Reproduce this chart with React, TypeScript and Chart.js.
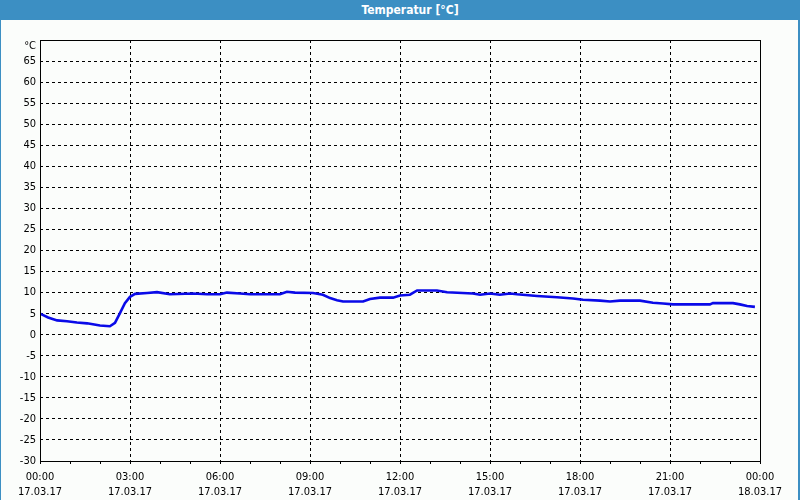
import React, { useEffect, useRef } from "react";
import { Chart, registerables } from "chart.js";

Chart.register(...registerables);

const titleText = "Temperatur [°C]";
const unitLabel = "°C";
const timeLabels = ["00:00", "03:00", "06:00", "09:00", "12:00", "15:00", "18:00", "21:00", "00:00"];
const dateLabels = ["17.03.17", "17.03.17", "17.03.17", "17.03.17", "17.03.17", "17.03.17", "17.03.17", "17.03.17", "18.03.17"];

const hours = [
  0, 0.27, 0.57, 0.9, 1.23, 1.57, 2.0, 2.33, 2.5, 2.67, 2.83, 3.0, 3.17, 3.57, 3.9, 4.33,
  5.1, 5.57, 6.0, 6.23, 6.67, 7.0, 8.0, 8.23, 8.5, 9.1, 9.43, 9.67, 9.9, 10.1, 10.77, 11.0,
  11.33, 11.77, 12.0, 12.33, 12.57, 13.23, 13.57, 14.43, 14.67, 15.0, 15.33, 15.67, 15.9,
  16.57, 17.23, 17.77, 18.1, 18.67, 19.0, 19.33, 20.0, 20.43, 20.77, 21.1, 22.33, 22.43,
  23.1, 23.33, 23.57, 23.83,
];
const temps = [
  5.0, 4.1, 3.4, 3.2, 2.9, 2.7, 2.2, 2.0, 2.8, 5.2, 7.5, 9.0, 9.7, 9.9, 10.1, 9.6,
  9.8, 9.6, 9.6, 10.0, 9.8, 9.6, 9.6, 10.2, 10.0, 9.9, 9.5, 8.7, 8.2, 7.9, 7.9, 8.5,
  8.8, 8.8, 9.3, 9.5, 10.5, 10.5, 10.1, 9.8, 9.5, 9.8, 9.5, 9.8, 9.6,
  9.2, 8.9, 8.6, 8.3, 8.1, 7.9, 8.1, 8.1, 7.6, 7.4, 7.2, 7.2, 7.5,
  7.5, 7.2, 6.8, 6.6,
];

const FONT = "'DejaVu Sans Condensed', 'DejaVu Sans', sans-serif";

export default function App() {
  const ref = useRef<HTMLCanvasElement | null>(null);

  useEffect(() => {
    document.body.style.margin = "0";
    const canvas = ref.current;
    if (!canvas) return;

    const framePlugin = {
      id: "frame",
      afterDatasetsDraw(chart: any) {
        const { ctx, chartArea } = chart;
        ctx.save();
        ctx.setLineDash([]);
        ctx.strokeStyle = "#000";
        ctx.lineWidth = 1;
        ctx.strokeRect(
          Math.round(chartArea.left) + 0.5,
          Math.round(chartArea.top) + 0.5,
          Math.round(chartArea.right - chartArea.left),
          Math.round(chartArea.bottom - chartArea.top)
        );
        ctx.fillStyle = "#000";
        ctx.font = "11px " + FONT;
        ctx.textAlign = "right";
        ctx.textBaseline = "middle";
        ctx.fillText(unitLabel, chartArea.left - 4, chartArea.top + 6);
        ctx.restore();
      },
    };

    const chart = new Chart(canvas, {
      type: "line",
      data: {
        datasets: [
          {
            data: hours.map((h, i) => ({ x: h, y: temps[i] })),
            borderColor: "#0a0ae8",
            borderWidth: 2.6,
            pointRadius: 0,
            tension: 0,
            fill: false,
          },
        ],
      },
      options: {
        animation: false,
        responsive: false,
        maintainAspectRatio: false,
        layout: { padding: { left: 0, top: 40, right: 40, bottom: 0 } },
        plugins: { legend: { display: false }, tooltip: { enabled: false }, title: { display: false } },
        scales: {
          x: {
            type: "linear",
            min: 0,
            max: 24,
            border: { display: false, dash: [3, 3] },
            afterFit(scale: any) {
              scale.height = 39;
            },
            grid: {
              color: (c: any) => {
                const v = c.tick ? c.tick.value : 0;
                return v % 3 === 0 && v !== 0 && v !== 24 ? "#000" : "rgba(0,0,0,0)";
              },
              tickColor: "#000",
              tickBorderDash: [],
              drawTicks: true,
              tickLength: 3,
              lineWidth: 1,
            },
            ticks: {
              stepSize: 1,
              autoSkip: false,
              maxRotation: 0,
              padding: 6,
              color: "#000",
              font: { family: FONT, size: 11, lineHeight: 1.36 },
              callback: (v: any) => {
                const n = Number(v);
                if (n % 3 !== 0) return "";
                return [timeLabels[n / 3], dateLabels[n / 3]];
              },
            },
          },
          y: {
            min: -30,
            max: 70,
            border: { display: false, dash: [3, 3] },
            afterFit(scale: any) {
              scale.width = 40;
            },
            grid: {
              color: (c: any) => {
                const v = c.tick ? c.tick.value : 0;
                return v === 70 || v === -30 ? "rgba(0,0,0,0)" : "#000";
              },
              drawTicks: false,
              lineWidth: 1,
            },
            ticks: {
              stepSize: 5,
              padding: 4,
              color: "#000",
              font: { family: FONT, size: 11 },
              callback: (v: any) => (Number(v) === 70 ? "" : String(v)),
            },
          },
        },
      },
      plugins: [framePlugin],
    });
    return () => chart.destroy();
  }, []);

  return (
    <div
      style={{
        position: "fixed",
        left: 0,
        top: 0,
        width: 800,
        height: 500,
        background: "#fbfdfb",
        overflow: "hidden",
      }}
    >
      <canvas ref={ref} width={800} height={500} style={{ position: "absolute", left: 0, top: 0, width: 800, height: 500 }} />
      <div
        style={{
          position: "absolute",
          left: 0,
          top: 0,
          width: 800,
          height: 500,
          boxSizing: "border-box",
          borderLeft: "1px solid #3c8fc3",
          borderRight: "2px solid #3c8fc3",
          pointerEvents: "none",
        }}
      />
      <div
        style={{
          position: "absolute",
          left: 0,
          top: 0,
          width: 800,
          height: 20,
          background: "#3c8fc3",
          color: "#fff",
          fontFamily: FONT,
          fontWeight: "bold",
          fontSize: 12,
          lineHeight: "20px",
          textAlign: "center",
          boxSizing: "border-box",
          paddingLeft: 20,
        }}
      >
        {titleText}
      </div>
    </div>
  );
}
